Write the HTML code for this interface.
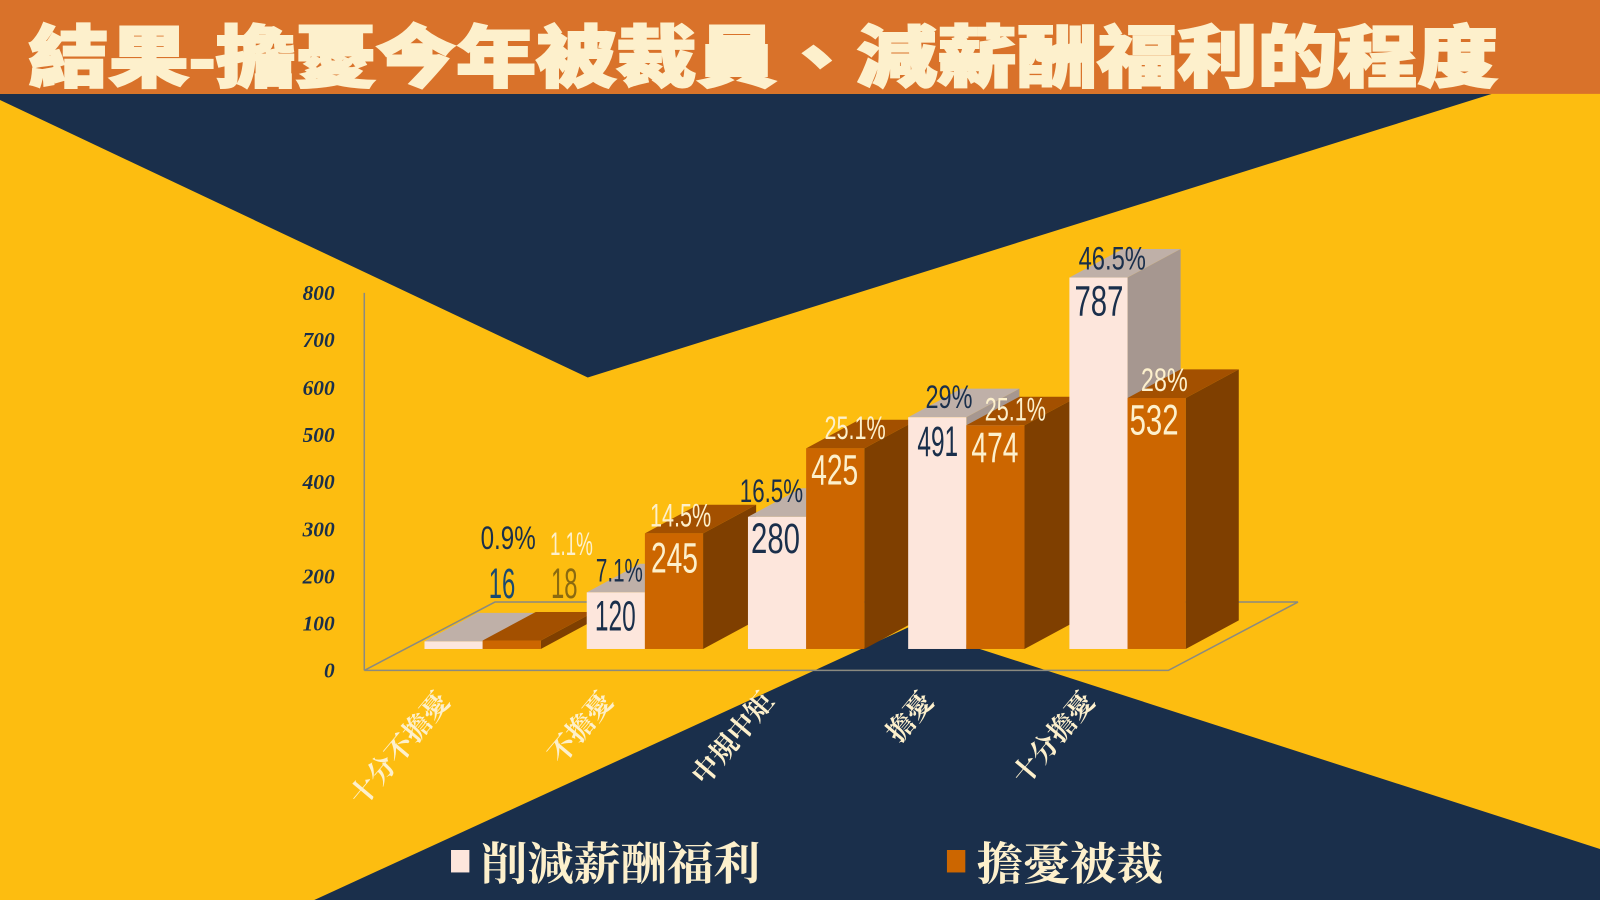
<!DOCTYPE html>
<html><head><meta charset="utf-8"><style>
html,body{margin:0;padding:0;width:1600px;height:900px;overflow:hidden;background:#fdbd10}
svg{display:block}
.t{font-family:"Liberation Sans","Noto Sans CJK TC",sans-serif}
.s{font-family:"Liberation Serif","Noto Serif CJK SC",serif}
.n{font-family:"Liberation Sans Narrow","Liberation Sans",sans-serif}
</style></head><body>
<svg width="1600" height="900" viewBox="0 0 1568 882" preserveAspectRatio="none" xmlns="http://www.w3.org/2000/svg">
<rect width="1568" height="882" fill="#fdbd10"/>
<polygon points="0,92 1462,92 576,370 0,98" fill="#1a2f4b"/>
<polygon points="308,882 892,614 1568,832 1568,882" fill="#1a2f4b"/>
<rect x="0" y="0" width="1568" height="92" fill="#d9722a"/>
<text x="28" y="80" class="t" font-size="66" font-weight="900" fill="#fdf0cc" textLength="1440" lengthAdjust="spacingAndGlyphs" stroke="#fdf0cc" stroke-width="2">結果-擔憂今年被裁員、減薪酬福利的程度</text>

<g stroke="#8a8a80" stroke-width="1.5" fill="none">
<line x1="357" y1="287" x2="357" y2="657"/>
<polyline points="357,657 1145,657 1272,590 485,590 357,657"/>
</g>
<g class="s" font-size="21" font-weight="bold" font-style="italic" fill="#1a2f4b" text-anchor="end">
<text x="328" y="294">800</text><text x="328" y="340">700</text><text x="328" y="387">600</text>
<text x="328" y="433">500</text><text x="328" y="479">400</text><text x="328" y="526">300</text>
<text x="328" y="572">200</text><text x="328" y="618">100</text><text x="328" y="664">0</text>
</g>

<g>
<polygon points="473,636 525,608 525,600.6 473,628.6" fill="#a69790"/>
<polygon points="416,628.6 468,600.6 525,600.6 473,628.6" fill="#bfb0a8"/>
<rect x="416" y="628.6" width="57" height="7.4" fill="#fde6dc"/>
<polygon points="530,636 582,608 582,599.7 530,627.7" fill="#7f3f00"/>
<polygon points="473,627.7 525,599.7 582,599.7 530,627.7" fill="#a35000"/>
<rect x="473" y="627.7" width="57" height="8.3" fill="#cc6600"/>

<polygon points="632,636 684,608 684,552.5 632,580.5" fill="#a69790"/>
<polygon points="575,580.5 627,552.5 684,552.5 632,580.5" fill="#bfb0a8"/>
<rect x="575" y="580.5" width="57" height="55.5" fill="#fde6dc"/>
<polygon points="689,636 741,608 741,494.7 689,522.7" fill="#7f3f00"/>
<polygon points="632,522.7 684,494.7 741,494.7 689,522.7" fill="#a35000"/>
<rect x="632" y="522.7" width="57" height="113.3" fill="#cc6600"/>

<polygon points="790,636 842,608 842,478.5 790,506.5" fill="#a69790"/>
<polygon points="733,506.5 785,478.5 842,478.5 790,506.5" fill="#bfb0a8"/>
<rect x="733" y="506.5" width="57" height="129.5" fill="#fde6dc"/>
<polygon points="847,636 899,608 899,411.4 847,439.4" fill="#7f3f00"/>
<polygon points="790,439.4 842,411.4 899,411.4 847,439.4" fill="#a35000"/>
<rect x="790" y="439.4" width="57" height="196.6" fill="#cc6600"/>

<polygon points="947,636 999,608 999,380.9 947,408.9" fill="#a69790"/>
<polygon points="890,408.9 942,380.9 999,380.9 947,408.9" fill="#bfb0a8"/>
<rect x="890" y="408.9" width="57" height="227.1" fill="#fde6dc"/>
<polygon points="1004,636 1056,608 1056,388.8 1004,416.8" fill="#7f3f00"/>
<polygon points="947,416.8 999,388.8 1056,388.8 1004,416.8" fill="#a35000"/>
<rect x="947" y="416.8" width="57" height="219.2" fill="#cc6600"/>

<polygon points="1105,636 1157,608 1157,244 1105,272" fill="#a69790"/>
<polygon points="1048,272 1100,244 1157,244 1105,272" fill="#bfb0a8"/>
<rect x="1048" y="272" width="57" height="364" fill="#fde6dc"/>
<polygon points="1162,636 1214,608 1214,362 1162,390" fill="#7f3f00"/>
<polygon points="1105,390 1157,362 1214,362 1162,390" fill="#a35000"/>
<rect x="1105" y="390" width="57" height="246" fill="#cc6600"/>
</g>

<g class="n" font-size="42" text-anchor="middle">
<text x="492" y="586" fill="#1a4a70" textLength="26" lengthAdjust="spacingAndGlyphs">16</text>
<text x="553" y="586" fill="#8a6a10" textLength="26" lengthAdjust="spacingAndGlyphs">18</text>
<text x="603" y="618" fill="#1a2f4b" textLength="40" lengthAdjust="spacingAndGlyphs">120</text>
<text x="661" y="561" fill="#fdf0cc" textLength="46" lengthAdjust="spacingAndGlyphs">245</text>
<text x="760" y="542" fill="#1a2f4b" textLength="48" lengthAdjust="spacingAndGlyphs">280</text>
<text x="818" y="475" fill="#fdf0cc" textLength="46" lengthAdjust="spacingAndGlyphs">425</text>
<text x="919" y="447" fill="#1a2f4b" textLength="40" lengthAdjust="spacingAndGlyphs">491</text>
<text x="975" y="453" fill="#fdf0cc" textLength="46" lengthAdjust="spacingAndGlyphs">474</text>
<text x="1077" y="309" fill="#1a2f4b" textLength="48" lengthAdjust="spacingAndGlyphs">787</text>
<text x="1131" y="426" fill="#fdf0cc" textLength="48" lengthAdjust="spacingAndGlyphs">532</text>
</g>
<g class="n" font-size="32" text-anchor="middle">
<text x="498" y="538" fill="#1a2f4b" textLength="54" lengthAdjust="spacingAndGlyphs">0.9%</text>
<text x="560" y="544" fill="#fdf0cc" textLength="42" lengthAdjust="spacingAndGlyphs">1.1%</text>
<text x="607" y="570" fill="#1a2f4b" textLength="46" lengthAdjust="spacingAndGlyphs">7.1%</text>
<text x="667" y="516" fill="#fdf0cc" textLength="60" lengthAdjust="spacingAndGlyphs">14.5%</text>
<text x="756" y="492" fill="#1a2f4b" textLength="62" lengthAdjust="spacingAndGlyphs">16.5%</text>
<text x="838" y="430" fill="#fdf0cc" textLength="60" lengthAdjust="spacingAndGlyphs">25.1%</text>
<text x="930" y="400" fill="#1a2f4b" textLength="46" lengthAdjust="spacingAndGlyphs">29%</text>
<text x="995" y="412" fill="#fdf0cc" textLength="60" lengthAdjust="spacingAndGlyphs">25.1%</text>
<text x="1090" y="264" fill="#1a2f4b" textLength="66" lengthAdjust="spacingAndGlyphs">46.5%</text>
<text x="1141" y="383" fill="#fdf0cc" textLength="46" lengthAdjust="spacingAndGlyphs">28%</text>
</g>

<g class="s" font-size="27" font-weight="bold" fill="#fdf0cc" text-anchor="end">
<text transform="translate(442,688) rotate(-50)">十分不擔憂</text>
<text transform="translate(602,688) rotate(-50)">不擔憂</text>
<text transform="translate(760,688) rotate(-50)">中規中矩</text>
<text transform="translate(916,688) rotate(-50)">擔憂</text>
<text transform="translate(1074,688) rotate(-50)">十分擔憂</text>
</g>

<rect x="442" y="833" width="18" height="22" fill="#fde6dc"/>
<text x="471" y="862" class="s" font-size="44" font-weight="bold" fill="#fdf0cc" textLength="274" lengthAdjust="spacingAndGlyphs">削減薪酬福利</text>
<rect x="928" y="833" width="18" height="22" fill="#cc6600"/>
<text x="957" y="862" class="s" font-size="44" font-weight="bold" fill="#fdf0cc" textLength="183" lengthAdjust="spacingAndGlyphs">擔憂被裁</text>
</svg>
</body></html>
